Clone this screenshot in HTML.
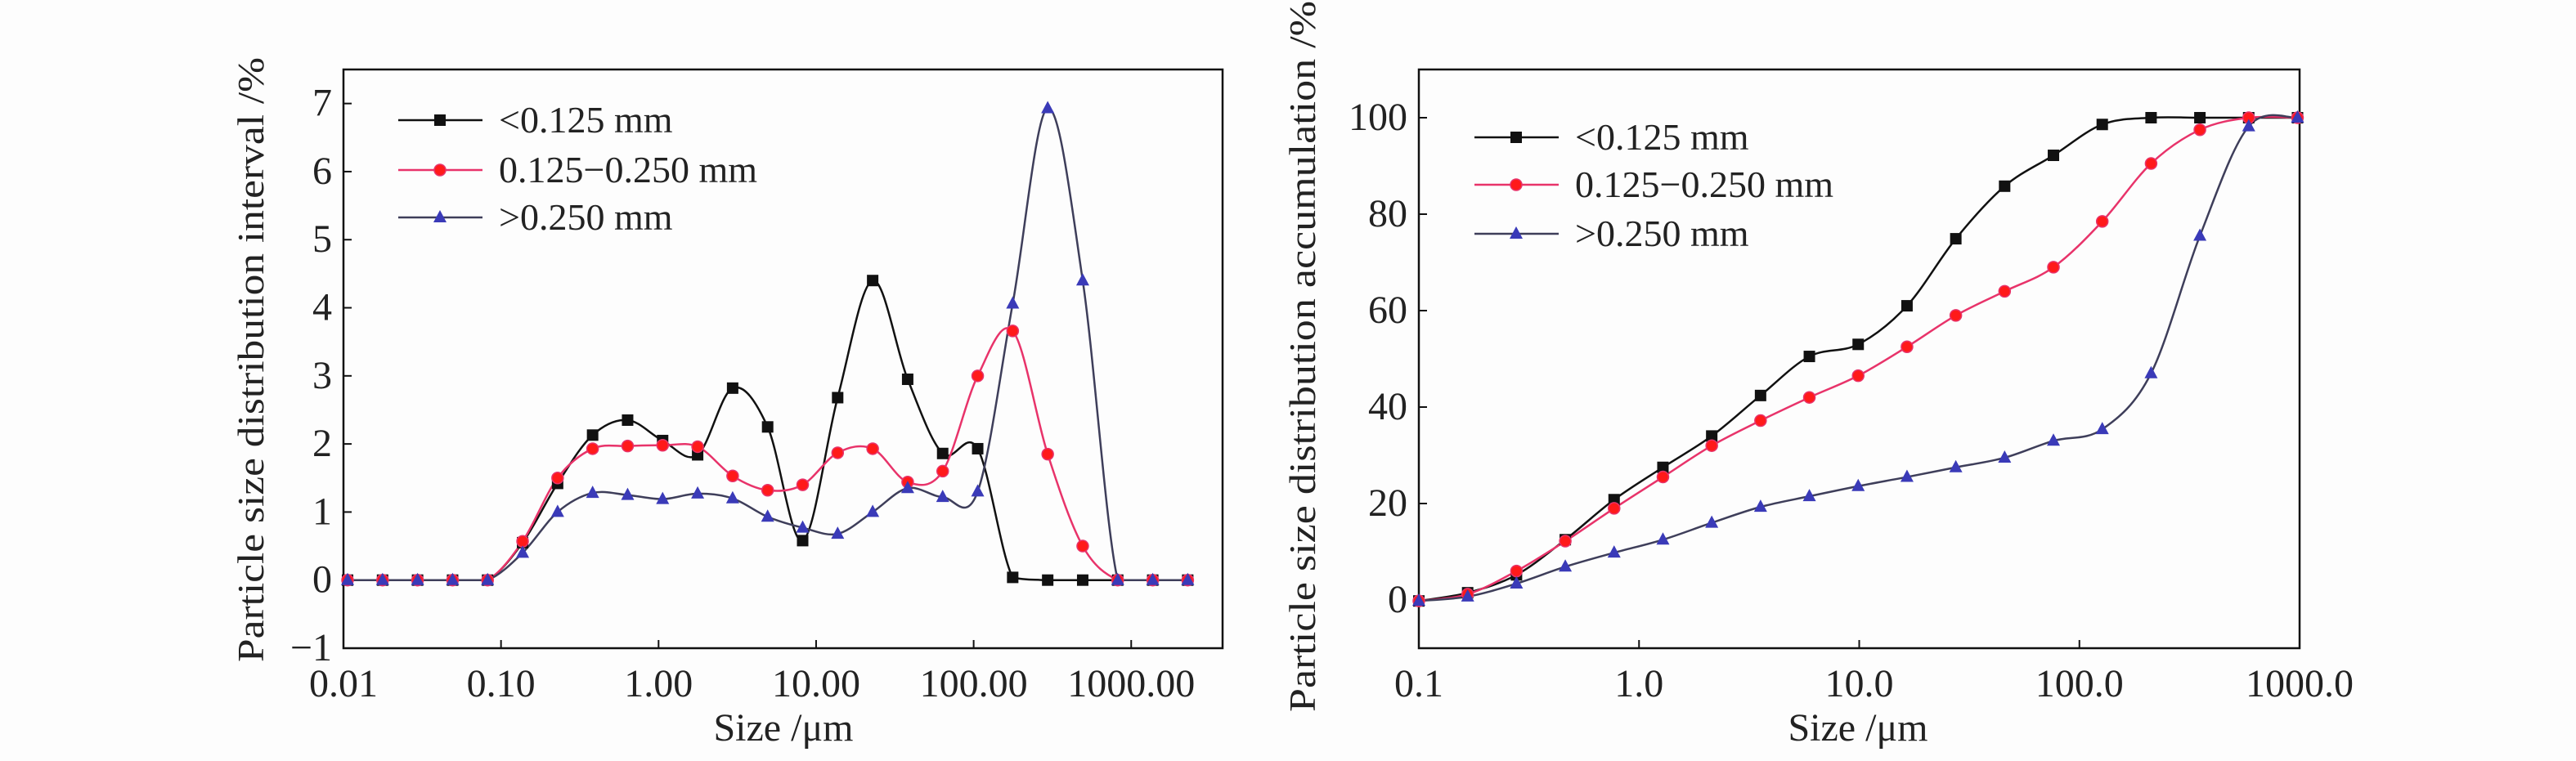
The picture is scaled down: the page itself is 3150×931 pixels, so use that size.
<!DOCTYPE html>
<html><head><meta charset="utf-8"><style>
html,body{margin:0;padding:0;background:#fdfdfd;}
svg{display:block;font-family:"Liberation Serif",serif;}
</style></head><body>
<svg id="svg" width="3150" height="931" viewBox="0 0 3150 931" xmlns="http://www.w3.org/2000/svg">
<rect width="3150" height="931" fill="#fdfdfd"/>
</svg>
<script>
// ----- Left chart data -----
const leftStartLog = -1.974;
const leftStepLog = 0.2222;
const leftBlack = [0,0,0,0,0,0.55,1.42,2.13,2.35,2.05,1.84,2.82,2.25,0.58,2.68,4.4,2.95,1.86,1.93,0.04,0,0,0,0,0];
const leftRed   = [0,0,0,0,0,0.57,1.5,1.93,1.97,1.98,1.96,1.53,1.32,1.4,1.87,1.93,1.44,1.6,3.0,3.66,1.85,0.5,0,0,0];
const leftBlue  = [0,0,0,0,0,0.4,1.0,1.28,1.25,1.19,1.27,1.2,0.93,0.77,0.68,1.0,1.35,1.22,1.3,4.06,6.93,4.4,0,0,0];
const leftYTicks = [-1,0,1,2,3,4,5,6,7];
const leftXTicks = ["0.01","0.10","1.00","10.00","100.00","1000.00"];
// ----- Right chart data -----
const rightStartLog = -1;
const rightStepLog = 0.2217;
const rightBlack = [-0.2,1.5,5.2,12.5,20.8,27.5,34,42.4,50.5,53,61,74.9,85.8,92.2,98.6,100,100,100,100];
const rightRed   = [-0.2,1.2,6,12.2,19,25.5,32,37.2,42,46.5,52.5,59,64,69,78.5,90.5,97.5,100,100];
const rightBlue  = [-0.2,0.7,3.4,6.9,9.8,12.5,16,19.3,21.5,23.6,25.5,27.5,29.5,33,35.4,47,75.5,98.2,100];
const rightYTicks = [0,20,40,60,80,100];
const rightXTicks = ["0.1","1.0","10.0","100.0","1000.0"];
const legendLabels = ["<0.125 mm","0.125\u22120.250 mm",">0.250 mm"];

const NS="http://www.w3.org/2000/svg";
const svg=document.getElementById('svg');
function mk(tag,attrs,parent){const e=document.createElementNS(NS,tag);for(const k in attrs)e.setAttribute(k,attrs[k]);(parent||svg).appendChild(e);return e;}

const colors=[{line:"#111",fill:"#111",stroke:"#000"},{line:"#e8336a",fill:"#ff1a1a",stroke:"#e8336a"},{line:"#3e3e5a",fill:"#3a3ab8",stroke:"#3a3ab8"}];

function spline(pts,floorY){
  const cl=y=>(floorY==null?y:Math.min(y,floorY));
  let d="M"+pts[0][0]+","+pts[0][1];
  for(let i=0;i<pts.length-1;i++){
    const p0=pts[Math.max(0,i-1)],p1=pts[i],p2=pts[i+1],p3=pts[Math.min(pts.length-1,i+2)];
    const c1=[p1[0]+(p2[0]-p0[0])/6,cl(p1[1]+(p2[1]-p0[1])/6)];
    const c2=[p2[0]-(p3[0]-p1[0])/6,cl(p2[1]-(p3[1]-p1[1])/6)];
    d+=" C"+c1[0]+","+c1[1]+" "+c2[0]+","+c2[1]+" "+p2[0]+","+p2[1];
  }
  return d;
}
function marker(kind,x,y,g,c){
  let m;
  if(kind===0){m=mk('rect',{x:x-7,y:y-7,width:14,height:14,fill:c.fill},g);}
  else if(kind===1){m=mk('circle',{cx:x,cy:y,r:7,fill:c.fill,stroke:c.stroke,'stroke-width':1.5},g);}
  else {m=mk('polygon',{points:(x)+","+(y-9)+" "+(x-8)+","+(y+6)+" "+(x+8)+","+(y+6),fill:c.fill},g);}
  return m;
}

function chart(o){
  const g=mk('g',{});
  
  
  const xs=v=>o.x0+(v-o.xmin)/(o.xmax-o.xmin)*(o.x1-o.x0);
  const ys=v=>o.y1-(v-o.ymin)/(o.ymax-o.ymin)*(o.y1-o.y0);
  const fr=mk('rect',{x:o.x0,y:o.y0,width:o.x1-o.x0,height:o.y1-o.y0,fill:"none",stroke:"#111","stroke-width":2.5},g);
  
  
  o.yTicks.forEach(t=>{
    const y=ys(t);
    const tk=mk('line',{x1:o.x0,x2:o.x0+10,y1:y,y2:y,stroke:"#111","stroke-width":2},g);
    
    
    const lb=mk('text',{x:o.x0-14,y:y+15,'font-size':48,'text-anchor':'end',fill:"#222"},g);
    lb.textContent=(t<0?"\u2212"+(-t):String(t));
    
    
  });
  o.xTicks.forEach((t,i)=>{
    const x=xs(o.xTickStart+i);
    const tk=mk('line',{x1:x,x2:x,y1:o.y1,y2:o.y1-10,stroke:"#111","stroke-width":2},g);
    
    
    const lb=mk('text',{x:x,y:852,'font-size':48,'text-anchor':'middle',fill:"#222"},g);
    lb.textContent=t;
    
    
  });
  const xt=mk('text',{x:o.xTitleX,y:906,'font-size':48,'text-anchor':'middle',fill:"#222"},g);
  xt.textContent="Size /\u03bcm";
  
  
  const yt=mk('text',{x:0,y:0,'font-size':46,'text-anchor':'middle',fill:"#222",textLength:o.yTitleLen,lengthAdjust:"spacingAndGlyphs",transform:"translate("+o.yTitleX+","+o.yTitleY+") rotate(-90)"},g);
  yt.textContent=o.yTitle;
  
  
  const floorY=o.floor==null?null:ys(o.floor);
  o.series.forEach((s,k)=>{
    const sg=mk('g',{},g);
    
    
    const pts=s.map((v,i)=>[xs(o.start+i*o.step),ys(v)]);
    const p=mk('path',{d:spline(pts,floorY),fill:"none",stroke:colors[k].line,"stroke-width":2.5},sg);
    
    
  });
  o.series.forEach((s,k)=>{
    s.forEach((v,i)=>{
      const m=marker(k,xs(o.start+i*o.step),ys(v),g,colors[k]);
      
      
    });
  });
  legendLabels.forEach((l,k)=>{
    const y=o.legY[k];
    const ln=mk('line',{x1:o.legX,x2:o.legX+103,y1:y,y2:y,stroke:colors[k].line,"stroke-width":2.5},g);
    
    
    const m=marker(k,o.legX+51,y,g,colors[k]);
    
    
    const t=mk('text',{x:o.legX+123,y:y+15,'font-size':46,fill:"#222"},g);
    t.textContent=l;
    
    
  });
}

chart({name:'interval-chart',x0:420,x1:1495,y0:85,y1:793,xmin:-2,xmax:3.58,ymin:-1,ymax:7.5,floor:0,
  yTicks:leftYTicks,xTicks:leftXTicks,xTickStart:-2,start:leftStartLog,step:leftStepLog,
  series:[leftBlack,leftRed,leftBlue],legX:487,legY:[147,208,266],
  xTitleX:958,yTitleX:322,yTitleY:440,yTitleLen:740,yTitle:"Particle size distribution interval /%"});
chart({name:'accumulation-chart',x0:1735,x1:2812,y0:85,y1:793,xmin:-1,xmax:3,ymin:-10,ymax:110,
  yTicks:rightYTicks,xTicks:rightXTicks,xTickStart:-1,start:rightStartLog,step:rightStepLog,
  series:[rightBlack,rightRed,rightBlue],legX:1803,legY:[168,226,286],
  xTitleX:2272,yTitleX:1608,yTitleY:436,yTitleLen:870,yTitle:"Particle size distribution accumulation /%"});
</script>
</body></html>
